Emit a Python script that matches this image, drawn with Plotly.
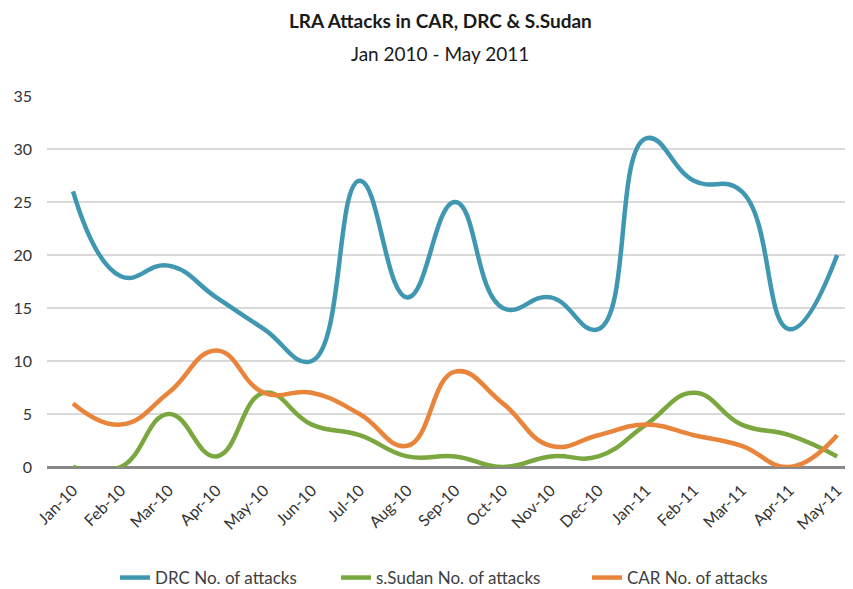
import plotly.graph_objects as go

months = ["Jan-10", "Feb-10", "Mar-10", "Apr-10", "May-10", "Jun-10", "Jul-10", "Aug-10",
          "Sep-10", "Oct-10", "Nov-10", "Dec-10", "Jan-11", "Feb-11", "Mar-11", "Apr-11", "May-11"]
drc = [26, 18, 19, 16, 13, 10, 27, 16, 25, 15, 16, 13, 31, 27, 26, 13, 20]
sudan = [0, 0, 5, 1, 7, 4, 3, 1, 1, 0, 1, 1, 4, 7, 4, 3, 1]
car = [6, 4, 7, 11, 7, 7, 5, 2, 9, 6, 2, 3, 4, 3, 2, 0, 3]

series = [
    ("DRC No. of attacks", drc, "#3f97b1", "legend", 115),
    ("s.Sudan No. of attacks", sudan, "#7aa83f", "legend2", 336),
    ("CAR No. of attacks", car, "#e9843b", "legend3", 587),
]

# page body has an 8px offset; target coordinates are reduced by it
OFF = 8
W, H = 853 - OFF, 589 - OFF
L, R, T = 47 - OFF, 2, 96 - OFF
B = H - (467 - OFF)
pw, ph = W - L - R, H - T - B
cx = (440 - OFF - L) / pw
ly = (H - B - (578 - OFF)) / ph

fig = go.Figure()
legends = {}
for name, vals, col, lg, lx in series:
    fig.add_trace(go.Scatter(
        x=list(range(len(months))), y=vals, name=name, mode="lines", legend=lg,
        line=dict(color=col, width=4.5, shape="spline", smoothing=1.3),
    ))
    legends[lg] = dict(x=(lx - OFF - L) / pw, xanchor="left", y=ly, yanchor="middle",
                       orientation="h", font=dict(size=17, color="#404040"),
                       bgcolor="rgba(0,0,0,0)")

fig.update_layout(
    width=W, height=H,
    margin=dict(l=L, r=R, t=T, b=B, autoexpand=False),
    plot_bgcolor="white", paper_bgcolor="white",
    font=dict(family="Lato, sans-serif", color="#404040", size=15),
    showlegend=True,
    **legends,
)
fig.add_annotation(text="<b>LRA Attacks in CAR, DRC &amp; S.Sudan</b>", xref="paper", yref="paper",
                   x=cx, y=1 + (T - (21 - OFF)) / ph, showarrow=False,
                   font=dict(size=19, color="#1a1a1a"), xanchor="center", yanchor="middle")
fig.add_annotation(text="Jan 2010 - May 2011", xref="paper", yref="paper",
                   x=cx, y=1 + (T - (53 - OFF)) / ph, showarrow=False,
                   font=dict(size=19, color="#1a1a1a"), xanchor="center", yanchor="middle")

fig.update_xaxes(
    tickmode="array", tickvals=list(range(len(months))), ticktext=months,
    tickangle=-45, range=[-0.545, 16.29], showgrid=False, zeroline=False,
    showline=False, ticks="", tickfont=dict(size=16, color="#333333"), automargin=False,
    ticklabelstandoff=10,
)
fig.update_yaxes(
    range=[0, 35], tickvals=[0, 5, 10, 15, 20, 25, 30, 35], showgrid=True,
    gridcolor="#d9d9d9", gridwidth=2, zeroline=True, zerolinecolor="#888888",
    zerolinewidth=3, showline=False, ticks="", tickfont=dict(size=16, color="#333333"),
    ticklabelstandoff=14, automargin=False,
)

fig.write_html("out.html")
